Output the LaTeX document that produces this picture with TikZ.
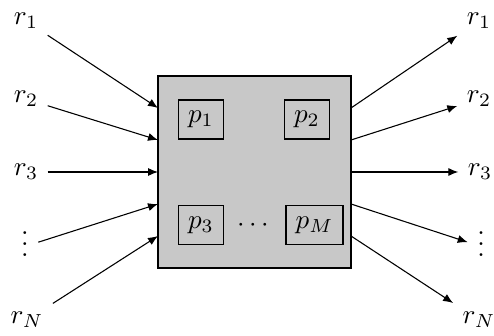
\documentclass[tikz,border=0pt]{standalone}
\usetikzlibrary{arrows.meta}
\definecolor{boxgray}{RGB}{200,200,200}
\begin{document}
\begin{tikzpicture}[x=0.37pt,y=-0.37pt,
  lab/.style={inner sep=3.33pt},
  arr/.style={-{Latex[length=3.7pt,width=3pt]}, line width=0.4pt},
  pbox/.style={draw, line width=0.4pt, fill=boxgray, inner xsep=3.6pt, minimum height=39*0.37pt}]
\useasboundingbox (0,0) rectangle (494,336);
% main box
\draw[fill=boxgray, line width=0.4pt] (158,76) rectangle (351,268);
\node[pbox] (p1) at (201,119.5) {$p_1$};
\node[pbox] (p2) at (307,119.5) {$p_2$};
\node[pbox] (p3) at (201,225) {$p_3$};
\node[pbox] (pM) at (314.5,225) {$p_M$};
\node (cd) at (253,225) {$\cdots$};
% box side points
\foreach \k in {1,...,5} {
  \coordinate (in\k) at (158,76+32*\k);
  \coordinate (out\k) at (351,76+32*\k);
}
% left labels
\node[lab] (l1) at (26,21) {$r_1$};
\node[lab] (l2) at (26,99) {$r_2$};
\node[lab] (l3) at (26,172) {$r_3$};
\node[lab] (lv) at (25,236) {$\vdots$};
\node[lab] (lN) at (27,320) {$r_N$};
% right labels
\node[lab] (o1) at (479,21) {$r_1$};
\node[lab] (o2) at (479,99) {$r_2$};
\node[lab] (o3) at (480,172) {$r_3$};
\node[lab] (ov) at (481,236) {$\vdots$};
\node[lab] (oN) at (479,320) {$r_N$};
% arrows in
\draw[arr] (l1) -- (in1);
\draw[arr] (l2) -- (in2);
\draw[arr] (l3) -- (in3);
\draw[arr] (lv.-25) -- (in4);
\draw[arr] (lN) -- (in5);
% arrows out
\draw[arr] (out1) -- (o1);
\draw[arr] (out2) -- (o2);
\draw[arr] (out3) -- (o3);
\draw[arr] (out4) -- (ov.205);
\draw[arr] (out5) -- (oN);
\end{tikzpicture}
\end{document}
